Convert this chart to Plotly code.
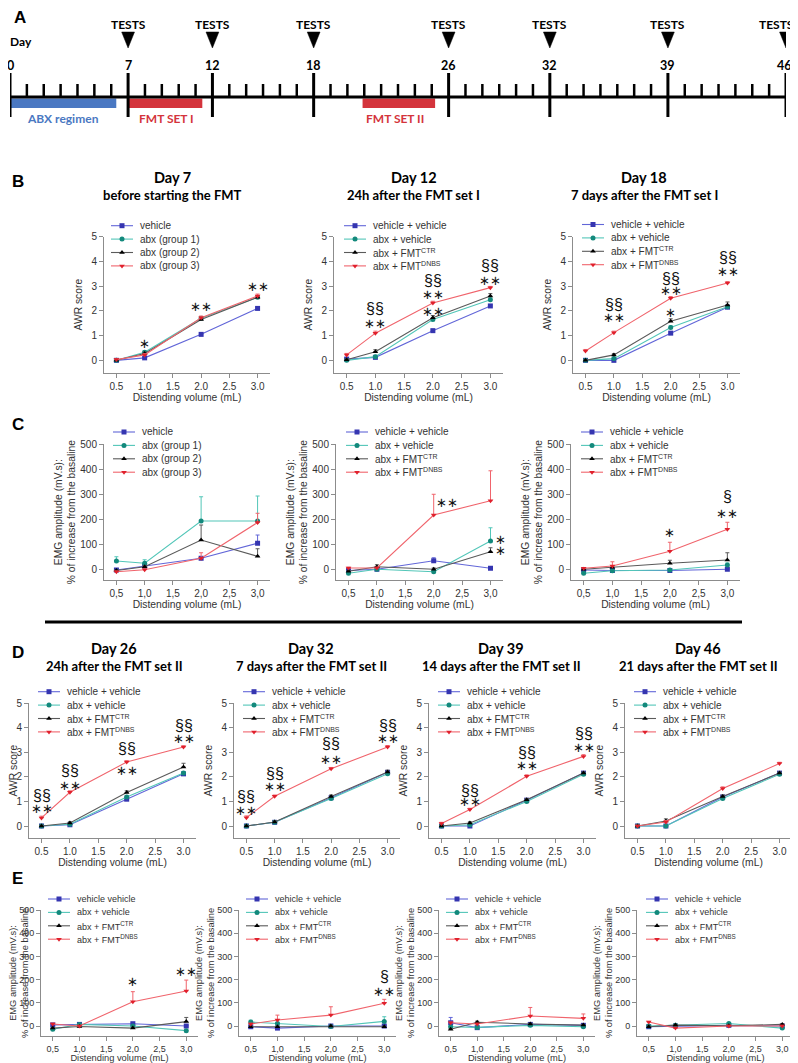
import plotly.graph_objects as go

# page body has an 8px margin: the figure is placed at (8, 8)
OFF = 8
W, H = 798 - OFF, 1063 - OFF

# ---------------- Panel A : timeline ----------------
all_days = list(range(0, 47))
labelled_days = [0, 7, 12, 18, 26, 32, 39, 46]
test_days = [7, 12, 18, 26, 32, 39, 46]
abx_period = [0, 6.3]
fmt1_period = [7.0, 11.4]
fmt2_period = [20.9, 25.2]

# ---------------- shared ----------------
volumes = [0.5, 1.0, 2.0, 3.0]
tick_vals = [0.5, 1.0, 1.5, 2.0, 2.5, 3.0]
tick_text_dot = ["0.5", "1.0", "1.5", "2.0", "2.5", "3.0"]
tick_text_comma = ["0,5", "1,0", "1,5", "2,0", "2,5", "3,0"]
awr_ticks = [0, 1, 2, 3, 4, 5]
emg_ticks = [0, 100, 200, 300, 400, 500]

names_day7 = ["vehicle", "abx (group 1)", "abx (group 2)", "abx (group 3)"]
names_fmt = ["vehicle + vehicle", "abx + vehicle", "abx + FMT<sup>CTR</sup>", "abx + FMT<sup>DNBS</sup>"]
names_fmt_e1 = ["vehicle vehicle", "abx + vehicle", "abx + FMT<sup>CTR</sup>", "abx + FMT<sup>DNBS</sup>"]

# ---------------- AWR score (series order: vehicle, teal, black, red) ----------------
awr_day7 = [[0.0, 0.10, 1.05, 2.10], [0.0, 0.33, 1.70, 2.55], [0.0, 0.28, 1.65, 2.55], [0.03, 0.22, 1.72, 2.60]]
awr_day7_err = [[0.03, 0.04, 0.04, 0.05], [0.03, 0.06, 0.06, 0.06], [0.03, 0.06, 0.06, 0.06], [0.03, 0.05, 0.07, 0.08]]
awr_day12 = [[0.05, 0.12, 1.20, 2.20], [0.0, 0.15, 1.65, 2.45], [0.02, 0.35, 1.72, 2.60], [0.22, 1.10, 2.32, 2.94]]
awr_day12_err = [[0.03, 0.04, 0.05, 0.05], [0.03, 0.05, 0.07, 0.07], [0.03, 0.08, 0.09, 0.10], [0.06, 0.08, 0.07, 0.05]]
awr_day18 = [[0.0, 0.0, 1.10, 2.15], [0.0, 0.07, 1.33, 2.17], [0.0, 0.22, 1.58, 2.24], [0.38, 1.12, 2.51, 3.13]]
awr_day18_err = [[0.03, 0.03, 0.05, 0.05], [0.03, 0.04, 0.07, 0.05], [0.03, 0.05, 0.10, 0.12], [0.06, 0.06, 0.07, 0.05]]
awr_day26 = [[0.0, 0.05, 1.09, 2.12], [0.0, 0.07, 1.18, 2.15], [0.0, 0.12, 1.36, 2.40], [0.33, 1.37, 2.60, 3.21]]
awr_day26_err = [[0.03, 0.03, 0.05, 0.05], [0.03, 0.04, 0.06, 0.06], [0.03, 0.05, 0.07, 0.15], [0.07, 0.06, 0.05, 0.05]]
awr_day32 = [[0.0, 0.15, 1.15, 2.18], [0.0, 0.15, 1.12, 2.12], [0.0, 0.16, 1.20, 2.20], [0.34, 1.21, 2.33, 3.21]]
awr_day32_err = [[0.03, 0.04, 0.05, 0.05], [0.03, 0.04, 0.05, 0.05], [0.03, 0.05, 0.06, 0.07], [0.07, 0.05, 0.05, 0.06]]
awr_day39 = [[0.0, 0.0, 1.05, 2.15], [0.0, 0.05, 1.00, 2.10], [0.0, 0.12, 1.07, 2.15], [0.10, 0.67, 2.02, 2.83]]
awr_day39_err = [[0.03, 0.03, 0.04, 0.05], [0.03, 0.04, 0.04, 0.05], [0.03, 0.05, 0.05, 0.05], [0.05, 0.05, 0.06, 0.07]]
awr_day46 = [[0.0, 0.0, 1.18, 2.15], [0.0, 0.0, 1.12, 2.10], [0.0, 0.20, 1.20, 2.15], [0.0, 0.16, 1.52, 2.54]]
awr_day46_err = [[0.03, 0.03, 0.05, 0.05], [0.03, 0.03, 0.05, 0.05], [0.03, 0.09, 0.06, 0.05], [0.03, 0.06, 0.07, 0.05]]

# ---------------- EMG amplitude (% increase) ----------------
emg_day7 = [[-3, 13, 44, 104], [33, 24, 193, 193], [-5, 10, 117, 52], [-10, -2, 44, 187]]
emg_day7_err = [[3, 5, 5, 33], [17, 14, 97, 100], [3, 5, 60, 30], [3, 3, 22, 37]]
emg_day12 = [[-5, 0, 34, 4], [-16, 0, -10, 113], [-8, 10, 0, 70], [5, 5, 217, 274]]
emg_day12_err = [[3, 3, 12, 3], [3, 3, 5, 53], [3, 8, 5, 16], [3, 3, 83, 120]]
emg_day18 = [[-3, -5, -5, 0], [-16, -6, -3, 17], [0, 8, 24, 37], [4, 13, 72, 160]]
emg_day18_err = [[2, 2, 2, 2], [3, 3, 3, 8], [3, 5, 12, 29], [3, 17, 36, 28]]
emg_day26 = [[5, 7, 10, 0], [-14, 7, 0, -20], [-9, -2, -9, 19], [9, 0, 105, 151]]
emg_day26_err = [[3, 3, 5, 3], [3, 3, 3, 3], [3, 3, 3, 18], [3, 3, 43, 47]]
emg_day32 = [[-3, -9, 0, 0], [17, 11, -2, 20], [-3, -3, 0, -3], [9, 26, 47, 98]]
emg_day32_err = [[3, 3, 3, 3], [8, 5, 3, 20], [3, 3, 3, 3], [3, 21, 36, 17]]
emg_day39 = [[14, -7, 7, 3], [-3, -6, 3, -3], [-14, 16, 9, 4], [14, 9, 43, 33]]
emg_day39_err = [[23, 3, 3, 3], [3, 3, 3, 3], [3, 5, 3, 3], [3, 3, 37, 19]]
emg_day46 = [[-3, 0, 3, 0], [0, 3, 11, -9], [-3, 4, 1, 7], [17, -9, 0, 0]]
emg_day46_err = [[3, 3, 3, 3], [3, 3, 3, 3], [3, 3, 3, 3], [3, 3, 3, 3]]

# ---------------- significance labels: (volume, level, label) ----------------
sig_day7 = [(1.0, 0.70, "∗"), (2.0, 2.16, "∗∗"), (3.0, 3.00, "∗∗")]
sig_day12 = [(1.0, 2.10, "§§"), (1.0, 1.50, "∗∗"), (2.0, 3.24, "§§"), (2.0, 2.67, "∗∗"),
             (2.0, 1.96, "∗∗"), (3.0, 3.85, "§§"), (3.0, 3.24, "∗∗")]
sig_day18 = [(1.0, 2.26, "§§"), (1.0, 1.74, "∗∗"), (2.0, 3.30, "§§"), (2.0, 2.83, "∗∗"),
             (2.0, 1.94, "∗"), (3.0, 4.16, "§§"), (3.0, 3.58, "∗∗")]
sig_emg_day12 = [(2.24, 266, "∗∗"), (3.27, 274, "∗∗"), (3.17, 120, "∗"), (3.17, 74, "∗")]
sig_emg_day18 = [(2.0, 146, "∗"), (3.0, 224, "∗∗"), (3.0, 290, "§")]
sig_day26 = [(0.5, 1.25, "§§"), (0.5, 0.71, "∗∗"), (1.0, 2.26, "§§"), (1.0, 1.65, "∗∗"),
             (2.0, 3.15, "§§"), (2.0, 2.26, "∗∗"), (3.0, 4.09, "§§"), (3.0, 3.55, "∗∗")]
sig_day32 = [(0.5, 1.20, "§§"), (0.5, 0.64, "∗∗"), (1.0, 2.15, "§§"), (1.0, 1.59, "∗∗"),
             (2.0, 3.35, "§§"), (2.0, 2.70, "∗∗"), (3.0, 4.09, "§§"), (3.0, 3.55, "∗∗")]
sig_day39 = [(1.0, 1.45, "§§"), (1.0, 0.98, "∗∗"), (2.0, 2.97, "§§"), (2.0, 2.47, "∗∗"),
             (3.0, 3.78, "§§"), (3.0, 3.21, "∗∗")]
sig_emg_day26 = [(2.0, 191, "∗"), (3.0, 237, "∗∗")]
sig_emg_day32 = [(3.0, 148, "∗∗"), (3.0, 212, "§")]

# ---------------- styles ----------------
LINE_COLORS = ["#6266d8", "#52c6b8", "#5a5a5a", "#f0646c"]
MARKER_COLORS = ["#3535b0", "#13897c", "#000000", "#e0202c"]
SYMBOLS = ["square", "circle", "triangle-up", "triangle-down"]
AX_COLOR = "#8c8c8c"
TXT = "#333333"
SANS = "Liberation Sans, Arial, sans-serif"
HEAD = "Lato, Open Sans, sans-serif"
SYM_FONT = "DejaVu Sans, sans-serif"
LEG_STEP = 13.4

panels = [
    dict(kind="awr", data=awr_day7, err=awr_day7_err, names=names_day7, xd=(104, 270), yd=(236.7, 372.7),
         leg=(138, 225.7), sig=sig_day7, fs=10, title=("Day 7", "before starting the FMT", 172, 177)),
    dict(kind="awr", data=awr_day12, err=awr_day12_err, names=names_fmt, xd=(334, 503), yd=(236.7, 372.7),
         leg=(371, 225.7), sig=sig_day12, fs=10, title=("Day 12", "24h after the FMT set I", 414, 177)),
    dict(kind="awr", data=awr_day18, err=awr_day18_err, names=names_fmt, xd=(573, 740), yd=(236.7, 372.7),
         leg=(609, 224.5), sig=sig_day18, fs=10, title=("Day 18", "7 days after the FMT set I", 644, 177)),
    dict(kind="emg", data=emg_day7, err=emg_day7_err, names=names_day7, xd=(104, 270), yd=(444.3, 580),
         leg=(140, 432), sig=[], fs=10, title=None),
    dict(kind="emg", data=emg_day12, err=emg_day12_err, names=names_fmt, xd=(336, 503), yd=(444.3, 580),
         leg=(373, 432), sig=sig_emg_day12, fs=10, title=None),
    dict(kind="emg", data=emg_day18, err=emg_day18_err, names=names_fmt, xd=(571, 740), yd=(444.3, 580),
         leg=(608, 432), sig=sig_emg_day18, fs=10, title=None),
    dict(kind="awr", data=awr_day26, err=awr_day26_err, names=names_fmt, xd=(29, 196), yd=(703, 838.3),
         leg=(65, 691.7), sig=sig_day26, fs=10, title=("Day 26", "24h after the FMT set II", 114, 648)),
    dict(kind="awr", data=awr_day32, err=awr_day32_err, names=names_fmt, xd=(234, 400), yd=(703, 838.3),
         leg=(270, 691.7), sig=sig_day32, fs=10, title=("Day 32", "7 days after the FMT set II", 311, 648)),
    dict(kind="awr", data=awr_day39, err=awr_day39_err, names=names_fmt, xd=(429, 596), yd=(703, 838.3),
         leg=(465, 691.7), sig=sig_day39, fs=10, title=("Day 39", "14 days after the FMT set II", 501, 648)),
    dict(kind="awr", data=awr_day46, err=awr_day46_err, names=names_fmt, xd=(625, 792), yd=(703, 838.3),
         leg=(661, 691.7), sig=[], fs=10, title=("Day 46", "21 days after the FMT set II", 698, 648)),
    dict(kind="emg", data=emg_day26, err=emg_day26_err, names=names_fmt_e1, xd=(41, 198), yd=(910, 1036),
         leg=(75, 899), sig=sig_emg_day26, fs=9, title=None),
    dict(kind="emg", data=emg_day32, err=emg_day32_err, names=names_fmt, xd=(239, 396), yd=(910, 1036),
         leg=(273, 899), sig=sig_emg_day32, fs=9, title=None),
    dict(kind="emg", data=emg_day39, err=emg_day39_err, names=names_fmt, xd=(439, 595), yd=(910, 1036),
         leg=(473, 899), sig=[], fs=9, title=None),
    dict(kind="emg", data=emg_day46, err=emg_day46_err, names=names_fmt, xd=(637, 794), yd=(910, 1036),
         leg=(673, 899), sig=[], fs=9, title=None),
]


def fx(x):
    return (x - OFF) / W


def fy(y):
    return 1 - (y - OFF) / H


fig = go.Figure()
layout = dict(width=W, height=H, margin=dict(l=0, r=0, t=0, b=0), template="none",
              paper_bgcolor="white", plot_bgcolor="rgba(0,0,0,0)", showlegend=False)
annotations = []
shapes = []

# ---------------- Panel A drawing ----------------
layout["xaxis"] = dict(domain=[fx(10), fx(786)], range=[0, 46], visible=False, fixedrange=True)
layout["yaxis"] = dict(domain=[fy(130), fy(OFF)], range=[130, OFF], visible=False, fixedrange=True)
fig.add_trace(go.Scatter(x=[all_days[0], all_days[-1]], y=[97, 97], mode="lines",
                         line=dict(color="black", width=3), hoverinfo="skip"))
sx, sy = [], []
for d in all_days:
    if d not in labelled_days:
        sx += [d, d, None]
        sy += [84, 97, None]
fig.add_trace(go.Scatter(x=sx, y=sy, mode="lines", line=dict(color="black", width=2.5), hoverinfo="skip"))
mx, my = [], []
for d in labelled_days:
    mx += [d, d, None]
    my += [73, 117, None]
fig.add_trace(go.Scatter(x=mx, y=my, mode="lines", line=dict(color="black", width=3), hoverinfo="skip"))
tx, ty = [], []
for d in test_days:
    tx += [d - 0.38, d + 0.38, d, d - 0.38, None]
    ty += [32, 32, 48, 32, None]
fig.add_trace(go.Scatter(x=tx, y=ty, mode="lines", fill="toself", fillcolor="black",
                         line=dict(color="black", width=0.5), hoverinfo="skip"))
for (p, col) in [(abx_period, "#4a78c2"), (fmt1_period, "#d4343c"), (fmt2_period, "#d4343c")]:
    shapes.append(dict(type="rect", xref="x", yref="y", x0=p[0], x1=p[1], y0=98.5, y1=108,
                       fillcolor=col, line=dict(width=0), layer="below"))
for d in test_days:
    annotations.append(dict(xref="x", yref="y", x=d, y=24, text="<b>TESTS</b>", showarrow=False,
                            xanchor="center", xshift=-10 if d == test_days[-1] else 0,
                            font=dict(family=HEAD, size=12, color="black")))
for d in labelled_days:
    annotations.append(dict(xref="x", yref="y", x=d, y=65, text=f"<b>{d}</b>", showarrow=False,
                            xanchor="center", xshift=-2 if d == labelled_days[-1] else 0,
                            font=dict(family=HEAD, size=12.5, color="black")))
annotations.append(dict(xref="x", yref="y", x=0, y=41, text="<b>Day</b>", showarrow=False, xanchor="left",
                        xshift=-2, font=dict(family=HEAD, size=12, color="black")))
annotations.append(dict(xref="x", yref="y", x=sum(abx_period) / 2, y=118, text="<b>ABX regimen</b>",
                        showarrow=False, xanchor="center", font=dict(family=HEAD, size=12, color="#4a78c2")))
annotations.append(dict(xref="x", yref="y", x=sum(fmt1_period) / 2 + 0.1, y=118, text="<b>FMT SET I</b>",
                        showarrow=False, xanchor="center", font=dict(family=HEAD, size=12, color="#d4343c")))
annotations.append(dict(xref="x", yref="y", x=sum(fmt2_period) / 2 - 0.2, y=118, text="<b>FMT SET II</b>",
                        showarrow=False, xanchor="center", font=dict(family=HEAD, size=12, color="#d4343c")))

# panel letters
for letter, (lx, ly) in zip("ABCDE", [(20, 18), (18, 181), (18, 424), (18, 652), (17, 878)]):
    annotations.append(dict(xref="paper", yref="paper", x=fx(lx), y=fy(ly), text=f"<b>{letter}</b>",
                            showarrow=False, xanchor="center", yanchor="middle",
                            font=dict(family=SANS, size=17, color="black")))

# separator line between set I and set II
shapes.append(dict(type="line", xref="paper", yref="paper", x0=fx(45), x1=fx(742), y0=fy(622), y1=fy(622),
                   line=dict(color="black", width=3)))

# overlay axis in page pixels, used for the legend keys
NA = len(panels) + 2
layout[f"xaxis{NA}"] = dict(domain=[0, 1], range=[OFF, OFF + W], visible=False, fixedrange=True,
                            anchor=f"y{NA}")
layout[f"yaxis{NA}"] = dict(domain=[0, 1], range=[OFF + H, OFF], visible=False, fixedrange=True,
                            anchor=f"x{NA}")
key_lines = [([], []) for _ in range(4)]
key_marks = [([], []) for _ in range(4)]

# ---------------- data panels ----------------
for k, p in enumerate(panels):
    ai = k + 2
    xa, ya = f"x{ai}", f"y{ai}"
    fs = p["fs"]
    tickfont = dict(family=SANS, size=fs, color=TXT)
    titlefont = dict(family=SANS, size=fs + 0.3, color=TXT)
    if p["kind"] == "awr":
        yrange, yticks, ytitle, ttext = [-0.5, 5.0], awr_ticks, "AWR score", tick_text_dot
        ystand = 6
    else:
        yrange, yticks, ytitle, ttext = [-43, 500], emg_ticks, \
            "EMG amplitude (mV.s):<br>% of increase from the basaline", tick_text_comma
        ystand = 2 if fs == 10 else 0
    layout[f"xaxis{ai}"] = dict(domain=[fx(p["xd"][0]), fx(p["xd"][1])], range=[0.28, 3.22], anchor=ya,
                                tickvals=tick_vals, ticktext=ttext, showline=True, linecolor=AX_COLOR,
                                linewidth=1, ticks="outside", ticklen=4, tickcolor=AX_COLOR, tickwidth=1,
                                tickfont=tickfont, showgrid=False, zeroline=False, fixedrange=True,
                                title=dict(text="Distending volume (mL)", font=titlefont, standoff=1))
    layout[f"yaxis{ai}"] = dict(domain=[fy(p["yd"][1]), fy(p["yd"][0])], range=yrange, anchor=xa,
                                tickvals=yticks, showline=True, linecolor=AX_COLOR, linewidth=1,
                                ticks="outside", ticklen=4, tickcolor=AX_COLOR, tickwidth=1,
                                tickfont=tickfont, showgrid=False, zeroline=False, fixedrange=True,
                                title=dict(text=ytitle, font=titlefont, standoff=ystand))
    for s in range(4):
        fig.add_trace(go.Scatter(
            x=volumes, y=p["data"][s], name=p["names"][s], mode="lines+markers",
            xaxis=xa, yaxis=ya,
            line=dict(color=LINE_COLORS[s], width=1.1),
            marker=dict(symbol=SYMBOLS[s], size=5, color=MARKER_COLORS[s]),
            error_y=dict(type="data", symmetric=False, array=p["err"][s], arrayminus=[0] * 4,
                         color=LINE_COLORS[s], thickness=1, width=2),
            cliponaxis=False, hoverinfo="skip"))
        # legend entry (key + label)
        ltx, lty = p["leg"][0], p["leg"][1] + s * LEG_STEP
        key_lines[s][0].extend([ltx - 27, ltx - 5, None])
        key_lines[s][1].extend([lty, lty, None])
        key_marks[s][0].append(ltx - 16)
        key_marks[s][1].append(lty)
        annotations.append(dict(xref="paper", yref="paper", x=fx(ltx), y=fy(lty), text=p["names"][s],
                                showarrow=False, xanchor="left", yanchor="middle",
                                font=dict(family=SANS, size=fs, color=TXT)))
    for (sxv, syv, lab) in p["sig"]:
        is_sec = "§" in lab
        annotations.append(dict(xref=xa, yref=ya, x=sxv, y=syv, text=lab, showarrow=False,
                                xanchor="center", yanchor="middle",
                                font=dict(family=SANS if is_sec else SYM_FONT, size=16 if is_sec else 13,
                                          color="#111111")))
    if p["title"]:
        t1, t2, cx, cy = p["title"]
        annotations.append(dict(xref="paper", yref="paper", x=fx(cx), y=fy(cy), text=f"<b>{t1}</b>",
                                showarrow=False, xanchor="center", yanchor="middle",
                                font=dict(family=HEAD, size=14.5, color="black")))
        annotations.append(dict(xref="paper", yref="paper", x=fx(cx), y=fy(cy + 17.5), text=f"<b>{t2}</b>",
                                showarrow=False, xanchor="center", yanchor="middle",
                                font=dict(family=HEAD, size=13, color="black")))

for s in range(4):
    fig.add_trace(go.Scatter(x=key_lines[s][0], y=key_lines[s][1], mode="lines",
                             xaxis=f"x{NA}", yaxis=f"y{NA}", line=dict(color=LINE_COLORS[s], width=1.1),
                             hoverinfo="skip"))
    fig.add_trace(go.Scatter(x=key_marks[s][0], y=key_marks[s][1], mode="markers",
                             xaxis=f"x{NA}", yaxis=f"y{NA}",
                             marker=dict(symbol=SYMBOLS[s], size=5, color=MARKER_COLORS[s]),
                             hoverinfo="skip"))

layout["annotations"] = annotations
layout["shapes"] = shapes
fig.update_layout(**layout)
fig.write_html("out.html")
